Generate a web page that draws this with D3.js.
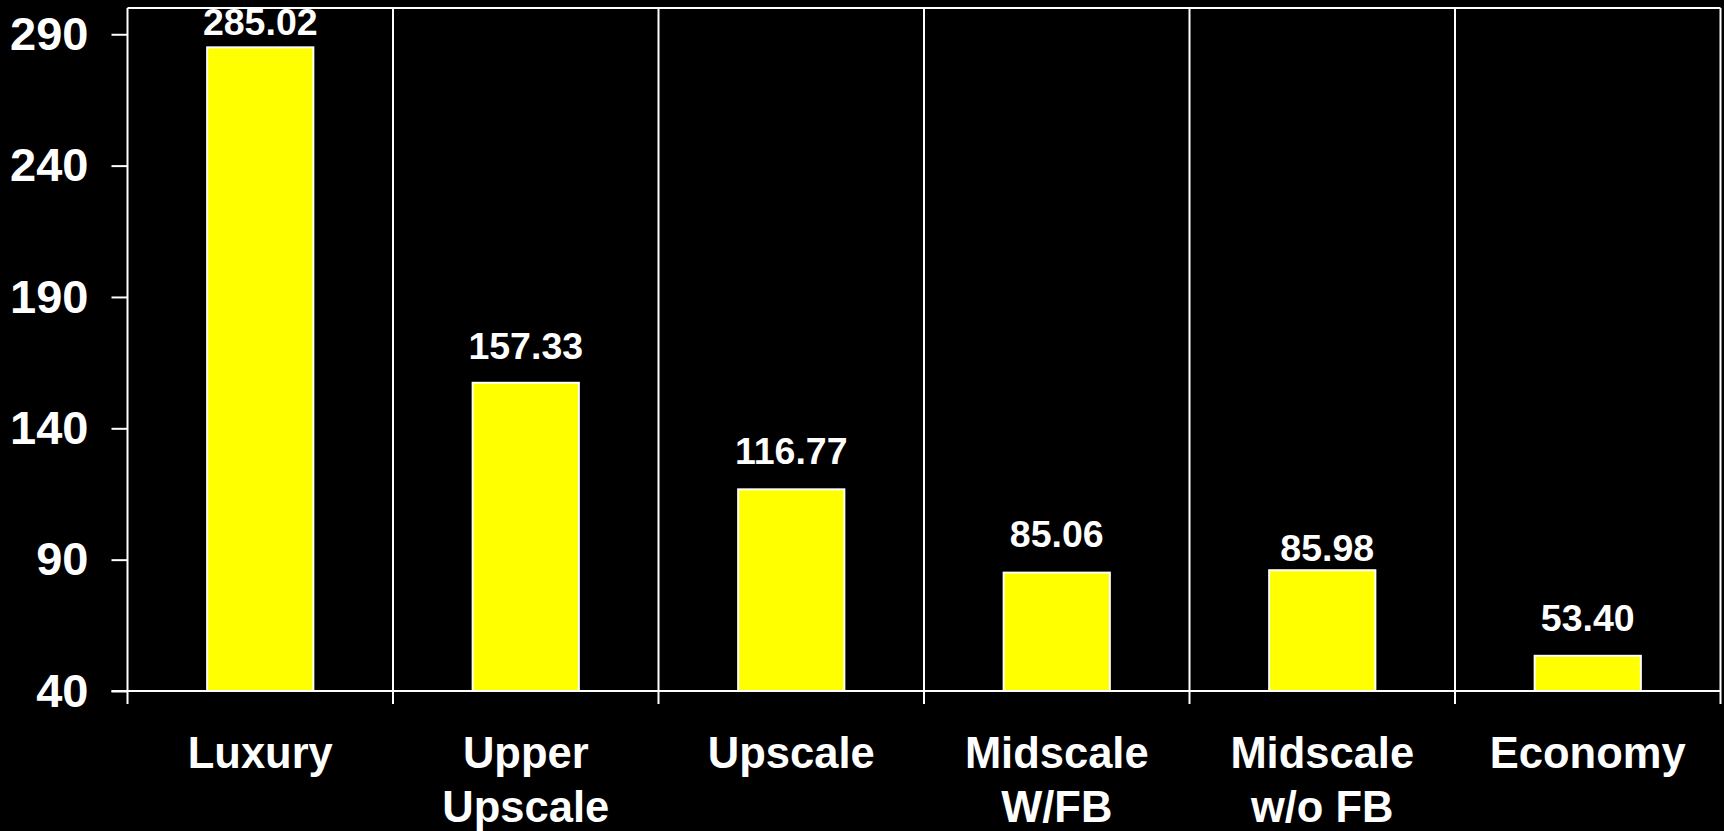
<!DOCTYPE html>
<html>
<head>
<meta charset="utf-8">
<script src="https://cdn.jsdelivr.net/npm/d3@7"></script>
<style>
  html, body { margin: 0; padding: 0; background: #000; }
  svg { display: block; }
  text { font-family: "Liberation Sans", Arial, sans-serif; font-weight: bold; fill: #fff; }
</style>
</head>
<body>
<svg id="chart" width="1724" height="831"></svg>
<script>
// ---- data ----
const categories = [["Luxury"], ["Upper", "Upscale"], ["Upscale"], ["Midscale", "W/FB"], ["Midscale", "w/o FB"], ["Economy"]];
const values = [285.02, 157.33, 116.77, 85.06, 85.98, 53.40];
const valueLabels = ["285.02", "157.33", "116.77", "85.06", "85.98", "53.40"];
const yTicks = [40, 90, 140, 190, 240, 290];
const yDomain = [40, 300];

// ---- layout ----
const W = 1724, H = 831;
const m = { left: 127.5, right: 3.5, top: 8, bottom: 140 };
const labelLift = [12, 24, 25, 26, 9, 25]; // label gap above bar top, as in the original
const svg = d3.select("#chart");

const keys = categories.map((c, i) => i);
const x = d3.scaleBand().domain(keys).range([m.left, W - m.right]).paddingInner(0).paddingOuter(0);
const y = d3.scaleLinear().domain(yDomain).range([H - m.bottom, m.top]);
const y0 = y(yDomain[0]);

// plot frame: top, plus category separators (incl. left/right edges)
const bounds = keys.map(k => x(k)).concat([x.range()[1]]);
svg.append("line").attr("x1", m.left).attr("x2", W - m.right).attr("y1", m.top).attr("y2", m.top)
  .attr("stroke", "#fff").attr("stroke-width", 2);
svg.selectAll("line.sep").data(bounds).enter().append("line").attr("class", "sep")
  .attr("x1", d => d).attr("x2", d => d).attr("y1", m.top).attr("y2", y0 + 13)
  .attr("stroke", "#fff").attr("stroke-width", 2);

// bars
const bw = x.bandwidth() * 0.4;
svg.selectAll("rect.bar").data(values).enter().append("rect").attr("class", "bar")
  .attr("x", (d, i) => x(i) + (x.bandwidth() - bw) / 2)
  .attr("y", d => y(d))
  .attr("width", bw)
  .attr("height", d => y0 - y(d))
  .attr("fill", "#ffff00").attr("stroke", "#fff").attr("stroke-width", 2);

// value labels
svg.selectAll("text.val").data(values).enter().append("text").attr("class", "val")
  .attr("x", (d, i) => x(i) + x.bandwidth() / 2 + (i === 4 ? 5 : 0))
  .attr("y", (d, i) => y(d) - labelLift[i])
  .attr("text-anchor", "middle").attr("font-size", 37.5)
  .text((d, i) => valueLabels[i]);

// y axis
const yAxis = d3.axisLeft(y).tickValues(yTicks).tickSize(16).tickSizeOuter(0).tickPadding(23);
const gy = svg.append("g").attr("transform", `translate(${m.left},0)`).call(yAxis);
gy.select(".domain").remove();
gy.selectAll(".tick line").attr("stroke", "#fff").attr("stroke-width", 2);
gy.selectAll(".tick text").attr("font-size", 47).attr("fill", "#fff")
  .attr("font-family", "'Liberation Sans', Arial, sans-serif").attr("font-weight", "bold");

// x axis baseline
svg.append("line").attr("x1", m.left - 16).attr("x2", W - m.right).attr("y1", y0).attr("y2", y0)
  .attr("stroke", "#fff").attr("stroke-width", 2);

// x labels
const xl = svg.selectAll("text.cat").data(categories).enter().append("text").attr("class", "cat")
  .attr("text-anchor", "middle").attr("font-size", 43.5)
  .attr("x", (d, i) => x(i) + x.bandwidth() / 2)
  .attr("y", 768);
xl.each(function(lines) {
  const t = d3.select(this);
  lines.forEach((ln, j) => {
    t.append("tspan").attr("x", t.attr("x")).attr("dy", j === 0 ? 0 : 54).text(ln);
  });
});
</script>
</body>
</html>
